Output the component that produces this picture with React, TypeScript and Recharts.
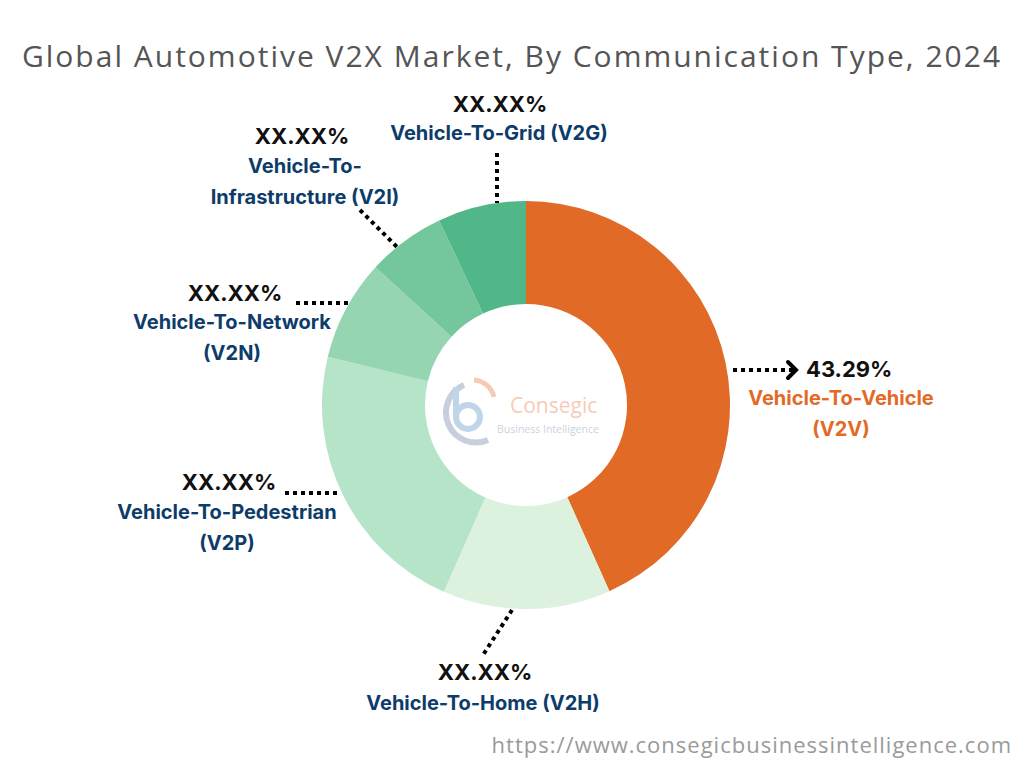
import { Pie, PieChart, Cell } from 'recharts';

document.body.style.margin = '0';

const segments = ['V2V', 'V2H', 'V2P', 'V2N', 'V2I', 'V2G'];
const shares = [43.29, 13.3, 22.2, 8.0, 6.2, 7.0];
const shownValues = ['43.29%', 'XX.XX%', 'XX.XX%', 'XX.XX%', 'XX.XX%', 'XX.XX%'];
const segmentNames = [
  ['Vehicle-To-Vehicle', '(V2V)'],
  ['Vehicle-To-Home (V2H)'],
  ['Vehicle-To-Pedestrian', '(V2P)'],
  ['Vehicle-To-Network', '(V2N)'],
  ['Vehicle-To-', 'Infrastructure (V2I)'],
  ['Vehicle-To-Grid (V2G)'],
];
const colors = ['#E26A27', '#DCF2DF', '#B5E4C8', '#95D5B2', '#74C69D', '#52B788'];

const data = segments.map((s, i) => ({ name: s, value: shares[i] }));

// label placement relative to pie centre
const labelLayout = [
  { vx: 280, vy: -36, nx: 315, ny: -7, anchor: 'start', line: [207, -35, 268, -35], arrow: true },
  { vx: -41, vy: 267, nx: -43, ny: 298, anchor: 'middle', line: [-14, 205, -43, 250] },
  { vx: -297, vy: 77, nx: -299, ny: 107, anchor: 'middle', line: [-241, 88, -188, 88] },
  { vx: -291, vy: -112, nx: -294, ny: -83, anchor: 'middle', line: [-230, -102, -178, -102] },
  { vx: -224, vy: -269, nx: -221, ny: -239, anchor: 'middle', line: [-166, -195, -129, -158] },
  { vx: -26, vy: -301, nx: -27, ny: -272, anchor: 'middle', line: [-29, -252, -29, -202] },
];

const FONT = 'Inter, Roboto, sans-serif';

function CenterLogo({ cx, cy }: { cx: number; cy: number }) {
  return (
    <g opacity={0.55}>
      <path
        d={`M ${cx - 62} ${cy - 20} A 25 25 0 1 0 ${cx - 38} ${cy + 35}`}
        fill="none"
        stroke="#9AA9C0"
        strokeWidth={6}
      />
      <circle cx={cx - 58} cy={cy + 12} r={12} fill="none" stroke="#8FB4D6" strokeWidth={6} />
      <line x1={cx - 70} y1={cy - 18} x2={cx - 70} y2={cy + 12} stroke="#8FB4D6" strokeWidth={6} />
      <path
        d={`M ${cx - 52} ${cy - 25} A 22 22 0 0 1 ${cx - 32} ${cy - 8}`}
        fill="none"
        stroke="#F0A27A"
        strokeWidth={5}
      />
      <text x={cx - 16} y={cy + 8} fontFamily='"Open Sans", sans-serif' fontSize={21} fill="#F0A27A">
        Consegic
      </text>
      <text x={cx - 29} y={cy + 28} fontFamily='"Open Sans", sans-serif' fontSize={10.5} fill="#A6AEBF">
        Business Intelligence
      </text>
    </g>
  );
}

function renderLabel(props: any) {
  const { cx, cy, index } = props;
  const l = labelLayout[index];
  const nameColor = index === 0 ? '#E26A27' : '#0D3C6A';
  const [x1, y1, x2, y2] = l.line;
  return (
    <g key={'lbl' + index}>
      {index === 0 && <CenterLogo cx={cx} cy={cy} />}
      <line
        x1={cx + x1}
        y1={cy + y1}
        x2={cx + x2}
        y2={cy + y2}
        stroke="#000"
        strokeWidth={4}
        strokeDasharray="4 4"
      />
      {l.arrow && (
        <polyline
          points={`${cx + x2 - 6},${cy + y2 - 8} ${cx + x2 + 2},${cy + y2} ${cx + x2 - 6},${cy + y2 + 8}`}
          fill="none"
          stroke="#000"
          strokeWidth={4}
          strokeLinecap="round"
        />
      )}
      <text
        x={cx + l.vx}
        y={cy + l.vy}
        textAnchor={l.anchor === 'start' ? 'start' : 'middle'}
        dominantBaseline="central"
        fontFamily={FONT}
        fontWeight={700}
        fontSize={22}
        fill="#111"
      >
        {shownValues[index]}
      </text>
      {segmentNames[index].map((line, k) => (
        <text
          key={k}
          x={cx + (l.anchor === 'start' ? l.vx + 35 : l.nx)}
          y={cy + l.ny + k * 31}
          textAnchor="middle"
          dominantBaseline="central"
          fontFamily={FONT}
          fontWeight={700}
          fontSize={20}
          fill={nameColor}
        >
          {line}
        </text>
      ))}
    </g>
  );
}

export default function App() {
  return (
    <div style={{ position: 'relative', width: 1024, height: 768, background: '#fff' }}>
      <div
        style={{
          position: 'absolute',
          top: 35,
          left: 0,
          width: 1024,
          textAlign: 'center',
          fontFamily: '"Open Sans", sans-serif',
          fontSize: 30,
          color: '#555',
          letterSpacing: 2,
        }}
      >
        Global Automotive V2X Market, By Communication Type, 2024
      </div>
      <PieChart
        width={1024}
        height={768}
        margin={{ top: 0, right: 0, bottom: 0, left: 0 }}
        style={{ position: 'absolute', top: 0, left: 0 }}
      >
        <Pie
          data={data}
          dataKey="value"
          nameKey="name"
          cx={526}
          cy={405}
          innerRadius={101}
          outerRadius={204}
          startAngle={90}
          endAngle={-270}
          stroke="none"
          label={renderLabel}
          labelLine={false}
          isAnimationActive={false}
        >
          {data.map((d, i) => (
            <Cell key={d.name} fill={colors[i]} />
          ))}
        </Pie>
      </PieChart>
      <div
        style={{
          position: 'absolute',
          right: 12,
          top: 729,
          fontFamily: '"Open Sans", sans-serif',
          fontSize: 22,
          letterSpacing: 1,
          color: '#9A9A9A',
        }}
      >
        https://www.consegicbusinessintelligence.com
      </div>
    </div>
  );
}
